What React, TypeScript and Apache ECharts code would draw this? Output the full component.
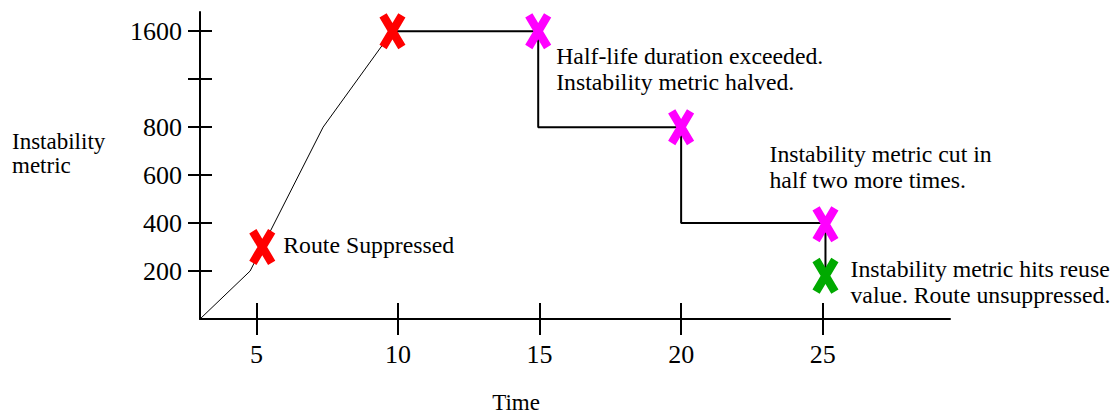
import React, { useEffect, useRef } from "react";
import * as echarts from "echarts";

// ---- data ----
const xTickValues = [5, 10, 15, 20, 25];
const xTickLabels = ["5", "10", "15", "20", "25"];
const yTickValues = [200, 400, 600, 800, 1200, 1600];
const yTickLabels = ["200", "400", "600", "800", "", "1600"];

const riseTime = [3, 4.77, 7.35, 9.8];
const riseMetric = [0, 200, 800, 1600];

const decayTime = [9.8, 14.95, 14.95, 20, 20, 25.1, 25.1];
const decayMetric = [1600, 1600, 800, 800, 400, 400, 180];

const suppressTime = [5.2, 9.8];
const suppressMetric = [300, 1600];
const suppressNotes = ["Route Suppressed", ""];

const halvedTime = [14.95, 20, 25.1];
const halvedMetric = [1600, 800, 395];
const halvedNotes = [
  "Half-life duration exceeded.\nInstability metric halved.",
  "",
  "Instability metric cut in\nhalf two more times.",
];

const reuseTime = [25.1];
const reuseMetric = [180];
const reuseNotes = ["Instability metric hits reuse\nvalue. Route unsuppressed."];

// broken axis: above 800 the scale is compressed by half
const toAxis = (v: number) => (v <= 800 ? v : 800 + (v - 800) / 2);

const FONT = "'Liberation Serif', 'Times New Roman', serif";
const X_PATH =
  "path://M7.43,0.94 L25.43,30.94 L18.57,35.06 L0.57,5.06 Z M18.57,0.94 L25.43,5.06 L7.43,35.06 L0.57,30.94 Z";

export default function App() {
  const ref = useRef<HTMLDivElement>(null);

  useEffect(() => {
    if (!ref.current) return;
    const chart = echarts.init(ref.current, undefined, { renderer: "svg" });

    const yPos = yTickValues.map(toAxis);
    const yLabel = (val: number) => {
      const i = yPos.findIndex((p) => Math.abs(p - val) < 1e-6);
      return i >= 0 ? yTickLabels[i] : "";
    };
    const xLabel = (val: number) => {
      const i = xTickValues.findIndex((p) => Math.abs(p - val) < 1e-6);
      return i >= 0 ? xTickLabels[i] : "";
    };

    const noteLabel = (text: string, offset: number[]) =>
      text
        ? {
            show: true,
            formatter: text,
            position: "inside",
            align: "left",
            verticalAlign: "middle",
            offset,
            color: "#000",
            fontFamily: FONT,
            fontSize: 23.75,
            lineHeight: 26,
          }
        : { show: false };

    const noteOffsets: Record<string, number[]> = {
      "Route Suppressed": [21, -2],
      "Half-life duration exceeded.\nInstability metric halved.": [18, 38],
      "Instability metric cut in\nhalf two more times.": [-56, -57],
      "Instability metric hits reuse\nvalue. Route unsuppressed.": [25, 6],
    };

    const markers = (times: number[], vals: number[], notes: string[]) =>
      times.map((t, i) => ({
        value: [t, toAxis(vals[i])],
        label: noteLabel(notes[i], noteOffsets[notes[i]] || [0, 0]),
      }));

    const xBase = {
      type: "value",
      min: 3,
      max: 29.5,
      splitLine: { show: false },
    };
    const yBase = {
      type: "value",
      min: 0,
      max: 1280,
      splitLine: { show: false },
    };

    chart.setOption({
      animation: false,
      textStyle: { fontFamily: FONT },
      grid: { left: 200, right: 168, top: 12, bottom: 95, containLabel: false },
      xAxis: [
        {
          ...xBase,
          axisLine: { show: true, onZero: false, lineStyle: { color: "#000", width: 2 } },
          axisTick: {
            show: true,
            inside: false,
            length: 16,
            customValues: xTickValues,
            lineStyle: { color: "#000", width: 2 },
          },
          axisLabel: {
            show: true,
            customValues: xTickValues,
            formatter: xLabel,
            margin: 22,
            color: "#000",
            fontFamily: FONT,
            fontSize: 26,
          },
        },
        {
          ...xBase,
          position: "bottom",
          axisLine: { show: false, onZero: false },
          axisTick: {
            show: true,
            inside: true,
            length: 16,
            customValues: xTickValues,
            lineStyle: { color: "#000", width: 2 },
          },
          axisLabel: { show: false },
        },
      ],
      yAxis: [
        {
          ...yBase,
          axisLine: { show: true, onZero: false, lineStyle: { color: "#000", width: 2 } },
          axisTick: {
            show: true,
            inside: false,
            length: 12,
            customValues: yPos,
            lineStyle: { color: "#000", width: 2 },
          },
          axisLabel: {
            show: true,
            customValues: yPos,
            formatter: yLabel,
            margin: 18,
            color: "#000",
            fontFamily: FONT,
            fontSize: 26,
          },
        },
        {
          ...yBase,
          position: "left",
          axisLine: { show: false, onZero: false },
          axisTick: {
            show: true,
            inside: true,
            length: 12,
            customValues: yPos,
            lineStyle: { color: "#000", width: 2 },
          },
          axisLabel: { show: false },
        },
      ],
      graphic: [
        {
          type: "text",
          x: 12,
          y: 153.5,
          style: {
            text: "Instability\nmetric",
            fill: "#000",
            fontFamily: FONT,
            fontSize: 23,
            lineHeight: 24,
            align: "left",
            verticalAlign: "middle",
          },
        },
        {
          type: "text",
          x: 516,
          y: 402,
          style: {
            text: "Time",
            fill: "#000",
            fontFamily: FONT,
            fontSize: 23,
            align: "center",
            verticalAlign: "middle",
          },
        },
      ],
      series: [
        {
          type: "line",
          xAxisIndex: 0,
          yAxisIndex: 0,
          symbol: "none",
          lineStyle: { color: "#000", width: 1 },
          data: riseTime.map((t, i) => [t, toAxis(riseMetric[i])]),
          z: 2,
        },
        {
          type: "line",
          xAxisIndex: 0,
          yAxisIndex: 0,
          symbol: "none",
          lineStyle: { color: "#000", width: 2 },
          data: decayTime.map((t, i) => [t, toAxis(decayMetric[i])]),
          z: 2,
        },
        {
          type: "scatter",
          symbol: X_PATH,
          symbolSize: [26, 36],
          itemStyle: { color: "#ff0000", opacity: 1 },
          data: markers(suppressTime, suppressMetric, suppressNotes),
          z: 5,
        },
        {
          type: "scatter",
          symbol: X_PATH,
          symbolSize: [26, 36],
          itemStyle: { color: "#ff00ff", opacity: 1 },
          data: markers(halvedTime, halvedMetric, halvedNotes),
          z: 5,
        },
        {
          type: "scatter",
          symbol: X_PATH,
          symbolSize: [26, 36],
          itemStyle: { color: "#00aa00", opacity: 1 },
          data: markers(reuseTime, reuseMetric, reuseNotes),
          z: 5,
        },
      ],
    });

    return () => chart.dispose();
  }, []);

  return (
    <div
      ref={ref}
      style={{ position: "absolute", left: 0, top: 0, width: 1118, height: 414, background: "#fff" }}
    />
  );
}
